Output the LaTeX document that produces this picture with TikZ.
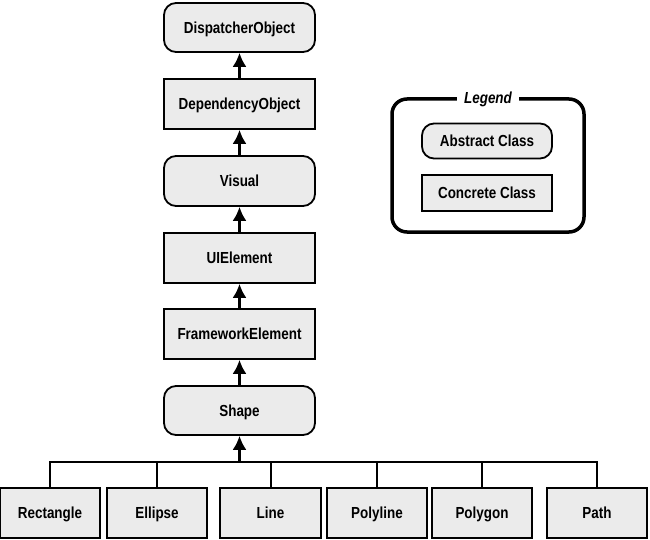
\documentclass[tikz,border=0pt]{standalone}
\usepackage{fontspec}
\setmainfont[FakeStretch=0.84]{Liberation Sans}
\usetikzlibrary{arrows.meta}
\begin{document}
\begin{tikzpicture}[x=1pt,y=-1pt,
  cls/.style={draw=black, line width=1.8pt, fill=black!8, inner sep=0pt, text height=11.5pt, text depth=0pt, font=\bfseries\fontsize{16}{19}\selectfont},
  abstractcls/.style={cls, rounded corners=12pt},
  concretecls/.style={cls},
  inh/.style={line width=2.2pt, -{Latex[length=14pt,width=14pt]}},
  link/.style={line width=2pt}]
\useasboundingbox (0,0) rectangle (650,540);
% main column
\node[abstractcls, minimum width=151pt, minimum height=49pt] (disp) at (239.5,27.5) {DispatcherObject};
\node[concretecls, minimum width=151pt, minimum height=50pt] (dep) at (239.5,104) {DependencyObject};
\node[abstractcls, minimum width=151pt, minimum height=50pt] (vis) at (239.5,181) {Visual};
\node[concretecls, minimum width=151pt, minimum height=50pt] (uie) at (239.5,258) {UIElement};
\node[concretecls, minimum width=151pt, minimum height=50pt] (fwe) at (239.5,334) {FrameworkElement};
\node[abstractcls, minimum width=151pt, minimum height=49pt] (shape) at (239.5,410.5) {Shape};
\draw[inh] (dep) -- (disp);
\draw[inh] (vis) -- (dep);
\draw[inh] (uie) -- (vis);
\draw[inh] (fwe) -- (uie);
\draw[inh] (shape) -- (fwe);
% bottom row
\node[concretecls, minimum width=100pt, minimum height=50pt] (rect) at (50,513) {Rectangle};
\node[concretecls, minimum width=100pt, minimum height=50pt] (ell) at (157,513) {Ellipse};
\node[concretecls, minimum width=101pt, minimum height=50pt] (line) at (270.5,513) {Line};
\node[concretecls, minimum width=100pt, minimum height=50pt] (poly) at (377,513) {Polyline};
\node[concretecls, minimum width=100pt, minimum height=50pt] (pgon) at (482,513) {Polygon};
\node[concretecls, minimum width=100pt, minimum height=50pt] (path) at (597,513) {Path};
\coordinate (bus) at (239.5,462);
\draw[link] (rect.north) |- (path.north |- bus) -- (path.north);
\foreach \n in {ell,line,poly,pgon} \draw[link] (\n.north) -- (\n.north |- bus);
\draw[inh] (bus) -- (shape);
% legend
\draw[line width=3.5pt, rounded corners=15pt] (392,99) rectangle (584,232);
\node[fill=white, inner xsep=7pt, inner ysep=1pt, font=\bfseries\itshape\fontsize{16}{19}\selectfont] (leg) at (488,99) {Legend};
\node[abstractcls, minimum width=130pt, minimum height=35pt] (labs) at (487,141) {Abstract Class};
\node[concretecls, minimum width=130pt, minimum height=36pt] (lcon) at (487,193) {Concrete Class};
\end{tikzpicture}
\end{document}
